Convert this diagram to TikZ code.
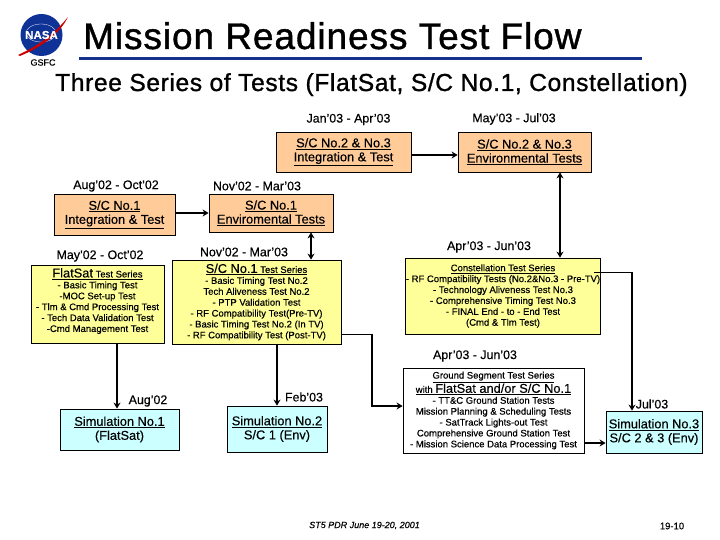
\documentclass[tikz,border=0pt]{standalone}
\usepackage{fontspec}
\setmainfont[FakeBold=0.35]{Liberation Sans}
\newfontfamily\titlefont[FakeBold=1.1,LetterSpace=2.5]{Liberation Sans}
\usetikzlibrary{arrows.meta}
\definecolor{peachfill}{RGB}{255,204,153}
\definecolor{lemonfill}{RGB}{255,255,153}
\definecolor{skyfill}{RGB}{204,255,255}
\definecolor{ruleblue}{RGB}{20,50,140}
\definecolor{logoblue}{RGB}{15,50,150}
\tikzset{
  testbox/.style={draw=black,line width=0.8pt,align=center,inner sep=0pt},
  peach/.style={testbox,fill=peachfill,font=\fontsize{12.8}{14}\selectfont},
  lemon/.style={testbox,fill=lemonfill,font=\fontsize{9.5}{10.9}\selectfont},
  sky/.style={testbox,fill=skyfill,font=\fontsize{12.8}{14}\selectfont},
  datelabel/.style={font=\fontsize{12.4}{14}\selectfont,inner sep=0pt},
  flow/.style={line width=2pt,-{Stealth[length=6pt,width=7pt]}},
  bothflow/.style={line width=2pt,{Stealth[length=6pt,width=7pt]}-{Stealth[length=6pt,width=7pt]}},
  thinlink/.style={line width=0.8pt}
}
\newcommand{\boxat}[6]{\node[#1,minimum width=#4pt-#2pt,minimum height=#5pt-#3pt] (#6) at ({(#2+#4)/2},{(#3+#5)/2})}
\newcommand{\lead}[1]{{\fontsize{12.8}{11}\selectfont #1}}
\begin{document}
\begin{tikzpicture}[x=1pt,y=-1pt]
\useasboundingbox (0,0) rectangle (720,540);
% logo
\fill[logoblue] (41.5,35) circle (21);
\draw[white,line width=0.3pt] (41,33) ellipse (15 and 9);
\fill[red!80!black] (18,55) .. controls (40,45) and (55,33) .. (68,17) .. controls (60,33) and (44,46) .. (20,56) -- cycle;
\node[font=\bfseries\fontsize{11.5}{12}\selectfont,text=white,inner sep=0pt] (nasa) at (41.5,35) {NASA};
\node[font=\fontsize{9}{10}\selectfont,inner sep=0pt] (gsfc) at (43,62.5) {GSFC};
% title
\node[font=\titlefont\fontsize{37}{40}\selectfont,inner sep=0pt,anchor=base west] (title) at (83,49) {Mission Readiness Test Flow};
\fill[ruleblue] (79,57.5) rectangle (642,60);
\node[font=\titlefont\fontsize{24.6}{28}\selectfont,inner sep=0pt,anchor=base west] (subtitle) at (55,91) {Three Series of Tests (FlatSat, S/C No.1, Constellation)};
% peach boxes
\boxat{peach}{276}{132}{411}{172}{intgB} {\underline{S/C No.2 \& No.3}\\\underline{Integration \& Test}};
\boxat{peach}{458}{132}{591}{172}{envB} {\underline{S/C No.2 \& No.3}\\\underline{Environmental Tests}};
\boxat{peach}{54}{194}{175}{235}{intgA} {\underline{S/C No.1}\\\underline{Integration \& Test}};
\boxat{peach}{209}{194}{333}{232}{envA} {\underline{S/C No.1}\\\underline{Enviromental Tests}};
% test series
\boxat{lemon}{31}{265}{164}{343}{flatsat} {\underline{\lead{FlatSat} Test Series}\\- Basic Timing Test\\-MOC Set-up Test\\- Tlm \& Cmd Processing Test\\- Tech Data Validation Test\\-Cmd Management Test\\[-3pt]\mbox{}};
\boxat{lemon}{172}{260}{341}{344}{seriesA} {\underline{\lead{S/C No.1} Test Series}\\- Basic Timing Test No.2\\Tech Aliveness Test No.2\\- PTP Validation Test\\- RF Compatibility Test(Pre-TV)\\- Basic Timing Test No.2 (In TV)\\- RF Compatibility Test (Post-TV)};
\boxat{lemon}{407}{258}{599}{334}{constel} {\underline{Constellation Test Series}\\- RF Compatibility Tests (No.2\&No.3 - Pre-TV)\\- Technology Aliveness Test No.3\\- Comprehensive Timing Test No.3\\- FINAL End - to - End Test\\(Cmd \& Tlm Test)};
\boxat{lemon,fill=white}{403}{368}{584}{453}{ground} {\underline{Ground Segment Test Series}\\\underline{with \lead{FlatSat and/or S/C No.1}}\\- TT\&C Ground Station Tests\\Mission Planning \& Scheduling Tests\\- SatTrack Lights-out Test\\Comprehensive Ground Station Test\\- Mission Science Data Processing Test};
% simulations
\boxat{sky}{60}{409}{179}{450}{simA} {\underline{Simulation No.1}\\(FlatSat)};
\boxat{sky}{227}{406}{327}{452}{simB} {\underline{Simulation No.2}\\S/C 1 (Env)};
\boxat{sky}{606}{411}{702}{453}{simC} {\underline{Simulation No.3}\\S/C 2 \& 3 (Env)};
% dates
\foreach \n/\x/\y/\t in {dIntgB/348.5/119.5/Jan'03 - Apr'03,dEnvB/514/119/May'03 - Jul'03,dIntgA/116/186/Aug'02 - Oct'02,dEnvA/257/186/Nov'02 - Mar'03,dFlat/100/256/May'02 - Oct'02,dSerA/244/252/Nov'02 - Mar'03,dCons/489/247/Apr'03 - Jun'03,dGrnd/475/356/Apr'03 - Jun'03,dSimA/148/401/Aug'02,dSimB/304/397/Feb'03,dSimC/652/404/Jul'03}
  \node[datelabel] (\n) at (\x,\y) {\t};
% footer
\node[font=\itshape\fontsize{9}{10}\selectfont,inner sep=0pt] (meeting) at (364.5,525.5) {ST5 PDR June 19-20, 2001};
\node[font=\fontsize{9.5}{10}\selectfont,inner sep=0pt] (pageno) at (672,526) {19-10};
% links
\coordinate (turnA) at (372,334);
\coordinate (turnC) at (632,272);
\draw[flow] ([yshift=-3pt]intgB.east) -- ([yshift=-3pt]envB.west);
\draw[flow] (intgA.east |- envA.west) -- (envA.west);
\draw[bothflow] ([xshift=35.5pt]envB.south) -- ([xshift=35.5pt]envB.south |- constel.north);
\draw[bothflow] ([xshift=40pt]envA.south) -- ([xshift=40pt]envA.south |- seriesA.north);
\draw[flow] ([xshift=-2.5pt]simA.north |- flatsat.south) -- ([xshift=-2.5pt]simA.north);
\draw[flow] (simB.north |- seriesA.south) -- (simB.north);
\draw[thinlink] (seriesA.east |- turnA) -- (turnA);
\draw[flow] (turnA) |- ([yshift=4.5pt]ground.west);
\draw[thinlink] ([xshift=-7pt]constel.east |- turnC) -- (turnC);
\draw[flow] (turnC) -- (turnC |- simC.north);
\draw[flow] ([yshift=-32.5pt]ground.east) -- ([yshift=-11pt]simC.west);
\end{tikzpicture}
\end{document}
